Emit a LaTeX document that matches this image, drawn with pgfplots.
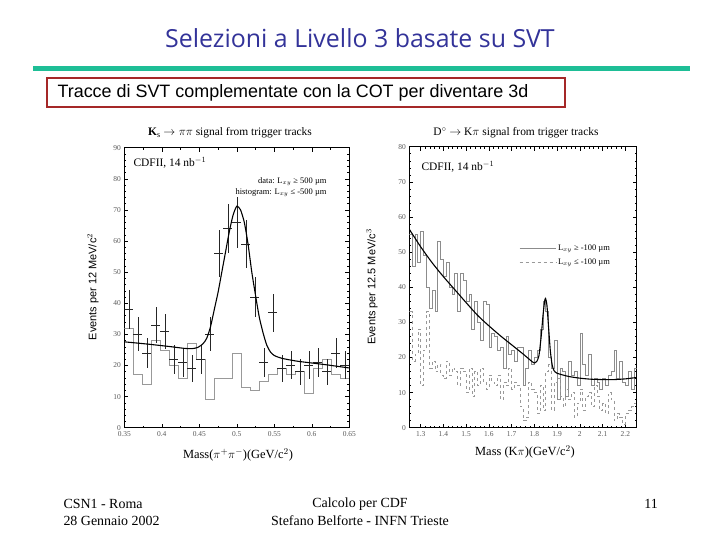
\documentclass[border=0pt]{standalone}
\usepackage{fontspec}
\setmainfont{Liberation Serif}
\newfontfamily\arialf{Liberation Sans}
\newfontfamily\titlef{Open Sans}
\usepackage{pgfplots}
\pgfplotsset{compat=1.18}
\usepackage{pgfplotstable}
\definecolor{titleblue}{RGB}{51,51,153}
\definecolor{rulegreen}{RGB}{30,190,150}
\definecolor{boxred}{RGB}{165,40,40}

\pgfplotstableread{
x y ey
0.356 38 6.2
0.368 30 5.5
0.380 24 4.9
0.392 33 5.7
0.404 31 5.6
0.416 22 4.7
0.428 21 4.6
0.440 19 4.4
0.452 22 4.7
0.464 30 5.5
0.476 56 7.5
0.488 64 8.0
0.500 66 8.1
0.512 59 7.7
0.524 42 6.5
0.536 21 4.6
0.548 37 6.1
0.560 19 4.4
0.572 20 4.5
0.584 18 4.2
0.596 20 4.5
0.608 21 4.6
0.620 18 4.2
0.632 24 4.9
0.644 20 4.5
}\ksdata

\pgfplotstableread{
x h
0.350 32
0.362 17
0.374 14
0.386 28
0.398 25
0.410 20
0.422 16
0.434 27
0.446 22
0.458 9
0.470 16
0.482 16
0.494 24
0.506 13
0.518 12
0.530 15
0.542 17
0.554 19
0.566 17
0.578 18
0.590 11
0.602 19
0.614 22
0.626 17
0.638 16
0.650 16
}\kshist

\pgfplotstableread{
x s d
1.2500 55 33
1.2625 46 19
1.2750 55 21
1.2875 47 28
1.3000 56 12
1.3125 49 22
1.3250 40 33
1.3375 34 17
1.3500 39 19
1.3625 33 16
1.3750 53 18
1.3875 48 15
1.4000 43 14
1.4125 47 19
1.4250 40 15
1.4375 38 17
1.4500 44 16
1.4625 33 12
1.4750 44 17
1.4875 42 16
1.5000 36 10
1.5125 38 17
1.5250 28 9
1.5375 36 16
1.5500 30 12
1.5625 25 17
1.5750 36 13
1.5875 35 11
1.6000 23 15
1.6125 27 13
1.6250 26 12
1.6375 22 15
1.6500 23 8
1.6625 17 13
1.6750 26 12
1.6875 21 17
1.7000 22 11
1.7125 19 13
1.7250 23 12
1.7375 23 6
1.7500 12 2
1.7625 17 3
1.7750 22 13
1.7875 18 11
1.8000 20 10
1.8125 22 4
1.8250 28 12
1.8375 36 5
1.8500 33 16
1.8625 20 18
1.8750 17 5
1.8875 25 13
1.9000 8 14
1.9125 17 9
1.9250 16 6
1.9375 9 11
1.9500 19 8
1.9625 15 10
1.9750 16 3
1.9875 12 7
2.0000 27 11
2.0125 18 5
2.0250 15 9
2.0375 21 10
2.0500 12 6
2.0625 14 12
2.0750 13 9
2.0875 11 5
2.1000 14 7
2.1125 12 4
2.1250 15 10
2.1375 16 8
2.1500 22 2
2.1625 14 4
2.1750 19 3
2.1875 13 1
2.2000 12 4
2.2125 16 5
2.2250 11 6
2.2375 17 7
2.2500 17 7
}\dhist

\pgfplotsset{
  cdfstyle/.style={
    scale only axis,
    anchor=south west,
    axis line style={black, line width=0.6pt},
    tick style={black, line width=0.5pt},
    major tick length=4bp,
    minor tick length=2bp,
    tick align=inside,
    tick label style={font=\fontsize{7.5}{8}\selectfont, text=black!65},
    /pgf/number format/assume math mode=true,
    clip=true,
  }
}

\begin{document}
\begin{tikzpicture}
\path[use as bounding box] (0,0) rectangle (720bp,540bp);

% slide title and frame
\node[font=\titlef\fontsize{25}{28}\selectfont, text=titleblue] at (360bp,502bp) {Selezioni a Livello 3 basate su SVT};
\fill[rulegreen] (33bp,468.5bp) rectangle (690bp,473.5bp);
\draw[boxred, line width=2bp] (47bp,433bp) rectangle (565bp,462bp);
\node[anchor=west, font=\arialf\fontsize{18}{20}\selectfont] at (54bp,447.5bp) {Tracce di SVT complementate con la COT per diventare 3d};

% footer
\node[anchor=west, font=\fontsize{14}{16}\selectfont] at (60bp,36bp) {CSN1 - Roma};
\node[anchor=west, font=\fontsize{14}{16}\selectfont] at (60bp,19bp) {28 Gennaio 2002};
\node[font=\fontsize{14}{16}\selectfont] at (360bp,36bp) {Calcolo per CDF};
\node[font=\fontsize{14}{16}\selectfont] at (360bp,19bp) {Stefano Belforte - INFN Trieste};
\node[font=\fontsize{14}{16}\selectfont] at (651bp,36bp) {11};

% ---------- left plot ----------
\begin{axis}[cdfstyle,
  at={(124.3bp,112.3bp)}, width=225bp, height=280bp,
  xmin=0.35, xmax=0.65, ymin=0, ymax=90,
  xtick={0.35,0.4,0.45,0.5,0.55,0.6,0.65},
  ytick={0,10,20,30,40,50,60,70,80,90},
  minor x tick num=1, minor y tick num=4,
]
\addplot[const plot, black!40, line width=0.8pt] table[x=x, y=h] {\kshist};
\addplot[draw=none, mark=none,
  error bars/.cd, x dir=both, x fixed=0.006, y dir=both, y explicit,
  error mark=none, error bar style={draw=black!85, solid, line width=0.6pt}]
  table[x=x, y=y, y error=ey] {\ksdata};
\addplot[black, line width=1.1pt, smooth, tension=0.4] coordinates {
(0.350,27.6) (0.380,26.9) (0.410,26.1) (0.430,25.5) (0.440,25.4) (0.448,25.8)
(0.455,27.0) (0.460,28.8) (0.465,32.5) (0.470,38.0) (0.475,43.5) (0.480,50.0)
(0.485,56.5) (0.490,63.0) (0.495,68.3) (0.500,71.2) (0.505,70.0) (0.510,66.0)
(0.515,59.0) (0.520,50.0) (0.525,42.5) (0.530,35.5) (0.535,30.5) (0.540,26.5)
(0.545,24.3) (0.550,23.2) (0.560,22.3) (0.580,21.4) (0.600,20.8) (0.620,20.2) (0.650,19.2)};
\end{axis}

% ---------- right plot ----------
\begin{axis}[cdfstyle,
  at={(409.3bp,112.3bp)}, width=227.4bp, height=281bp,
  xmin=1.25, xmax=2.25, ymin=0, ymax=80,
  xtick={1.3,1.4,1.5,1.6,1.7,1.8,1.9,2,2.1,2.2},
  ytick={0,10,20,30,40,50,60,70,80},
  minor x tick num=4, minor y tick num=4,
  legend style={at={(0.47,0.665)}, anchor=north west, draw=none, fill=none,
    font=\fontsize{8.5}{9}\selectfont, row sep=3bp,
    legend cell align=left},
  legend image code/.code={\draw[#1] (0bp,0bp) -- (36bp,0bp);},
]
\addplot[const plot, black!45, line width=0.7pt] table[x=x, y=s] {\dhist};
\addlegendentry{L$_{xy}$ ≥ -100 µm}
\addplot[const plot, black!40, dashed, line width=0.6pt] table[x=x, y=d] {\dhist};
\addlegendentry{L$_{xy}$ ≤ -100 µm}
\addplot[black, line width=1.1pt, smooth, tension=0.4, forget plot] coordinates {
(1.25,56.5) (1.30,51.5) (1.35,47.0) (1.40,43.0) (1.45,39.3) (1.50,35.6)
(1.55,32.0) (1.60,29.0) (1.65,26.2) (1.70,23.6) (1.75,21.0) (1.79,18.8)
(1.80,18.4) (1.81,18.8) (1.82,20.5) (1.83,26.0) (1.838,32.0) (1.845,36.0)
(1.849,36.8) (1.855,35.0) (1.862,29.0) (1.870,22.0) (1.878,18.0) (1.886,16.3)
(1.90,15.5) (1.95,14.6) (2.00,14.1) (2.05,13.8) (2.10,13.7) (2.15,13.7)
(2.20,13.9) (2.25,14.3)};
\end{axis}

% titles and labels of the plots
\node[font=\fontsize{11.5}{12}\selectfont] at (230bp,407bp) {\textbf{K}$_{\mathrm{s}}$ $\rightarrow \pi\pi$ signal from trigger tracks};
\node[font=\fontsize{11.5}{12}\selectfont] at (516bp,407bp) {D$^{\circ}$ $\rightarrow$ K$\pi$ signal from trigger tracks};
\node[rotate=90, font=\arialf\fontsize{11}{12}\selectfont] at (93bp,253bp) {Events per 12 MeV/c$^{2}$};
\node[rotate=90, font=\arialf\fontsize{11}{12}\selectfont] at (372bp,253bp) {Events per 12.5 MeV/c$^{3}$};
\node[font=\fontsize{12.5}{13}\selectfont] at (238bp,85bp) {Mass($\pi^{+}\pi^{-}$)(GeV/c$^{2}$)};
\node[font=\fontsize{12.5}{13}\selectfont] at (525bp,88bp) {Mass (K$\pi$)(GeV/c$^{2}$)};

% in-plot annotations
\node[anchor=west, font=\fontsize{11.5}{12}\selectfont] at (130bp,377bp) {CDFII, 14 nb$^{-1}$};
\node[anchor=east, font=\fontsize{8.5}{9}\selectfont] at (330bp,358bp) {data: L$_{xy}$ ≥ 500 µm};
\node[anchor=east, font=\fontsize{8.5}{9}\selectfont] at (330bp,347bp) {histogram: L$_{xy}$ ≤ -500 µm};
\node[anchor=west, font=\fontsize{11.5}{12}\selectfont] at (418bp,373bp) {CDFII, 14 nb$^{-1}$};
\end{tikzpicture}
\end{document}
